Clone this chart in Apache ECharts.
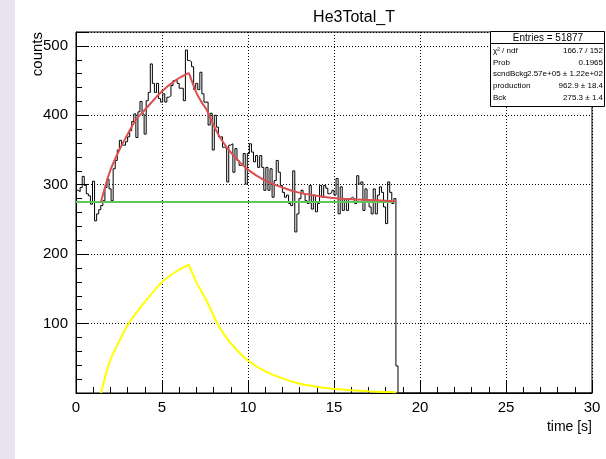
<!DOCTYPE html>
<html>
<head>
<meta charset="utf-8">
<script src="https://cdn.jsdelivr.net/npm/echarts@6/dist/echarts.min.js"></script>
<style>
html, body { margin: 0; padding: 0; background: #fff; }
#chart { width: 606px; height: 459px; }
</style>
</head>
<body>
<div id="chart"></div>
<script>
// histogram He3Total_T: 250 bins of 0.12 s over 0..30 s
const binWidth = 0.12
const nBins = 250
const counts = [
  292, 290, 296, 312, 299, 287, 284, 272, 305, 248,
  258, 264, 270, 277, 296, 308, 294, 277, 323, 335,
  350, 364, 357, 357, 362, 369, 378, 391, 402, 368,
  405, 420, 402, 373, 421, 433, 474, 446, 433, 446,
  424, 419, 431, 419, 426, 428, 443, 450, 452, 446,
  439, 439, 421, 494, 479, 477, 470, 437, 446, 437,
  462,
  431, 419, 419, 386, 403, 350, 400, 383, 369, 369,
  354, 352, 304, 357, 359, 318, 352, 335, 328, 328,
  345, 301, 345, 359, 347, 333, 342, 325, 342, 325,
  292,
  325, 292, 323, 282, 306, 335, 318, 299, 289, 282,
  285, 273, 270, 320, 232, 258, 280, 292, 287, 277,
  273, 299, 265, 285, 261, 273, 299, 282, 299, 295,
  287, 289, 292,
  285, 309, 258, 297, 263, 280, 263, 280, 282, 280,
  273, 313, 301, 304, 263, 294, 275, 268, 258, 294,
  258, 285, 297, 289, 268, 244, 304, 289, 273, 280,
  39
]

// fit components: [time, counts]
const fitRise = [[1.45, 275], [1.97, 319], [2.5, 349], [3.03, 374], [3.52, 395], [3.9, 405], [4.97, 434], [5.83, 451], [6.56, 461]]
const fitDecay = [[6.56, 461], [6.99, 433], [7.3, 419], [7.57, 409], [8.24, 374], [8.73, 355], [9.31, 338], [10.03, 321], [11, 306], [12, 296], [12.9, 289], [14, 284], [14.9, 281], [16, 279], [17, 278], [18, 277], [18.6, 276]]
const bckLine = [[0, 275.3], [18.6, 275.3]]
const prodRise = [[1.45, 0], [1.97, 46], [2.5, 74], [3.03, 99], [3.9, 128], [4.97, 159], [5.83, 175], [6.56, 185]]
const prodDecay = [[6.56, 185], [6.99, 160], [7.57, 134], [8.24, 99], [8.73, 80], [9.31, 63], [10.03, 46], [11, 31], [12, 21], [12.9, 14], [14, 9], [14.9, 6], [16, 4], [17, 2.5], [18, 1.5], [18.6, 1]]

const statNames = ['χ² / ndf', 'Prob', 'scndBckg', 'production', 'Bck']
const statValues = ['166.7 / 152', '0.1965', '2.57e+05 ± 1.22e+02', '962.9 ± 18.4', '275.3 ± 1.4']
const entries = 51877

const font = 'Liberation Sans, Arial, Helvetica, sans-serif'

const histData = []
for (let i = 0; i < nBins; i++) {
  histData.push([i * binWidth, counts[i] || 0])
}
histData.push([nBins * binWidth, 0])

function curve(data, color, width) {
  return {
    type: 'line', data, smooth: 0.3, showSymbol: false,
    lineStyle: {color, width}, silent: true
  }
}

// stats box sits above the grid lines
const statTexts = []
statNames.forEach((name, i) => {
  const y = 50.5 + i * 11.8
  statTexts.push({type: 'text', x: 493, y, z: 101,
    style: {text: name, font: '8px ' + font, fill: '#000', verticalAlign: 'middle'}})
  statTexts.push({type: 'text', x: 603, y, z: 101,
    style: {text: statValues[i], font: '8px ' + font, fill: '#000', align: 'right', verticalAlign: 'middle'}})
})

const chart = echarts.init(document.getElementById('chart'), null, {renderer: 'canvas'})
chart.setOption({
  animation: false,
  backgroundColor: '#fff',
  grid: {left: 76, right: 14, top: 32, bottom: 66, show: true, borderColor: '#000', borderWidth: 1},
  xAxis: {
    type: 'value', min: 0, max: 30, interval: 5,
    axisLine: {show: true, lineStyle: {color: '#000'}},
    axisTick: {show: true, inside: true, length: 12, lineStyle: {color: '#000'}},
    minorTick: {show: true, splitNumber: 5, length: 6, lineStyle: {color: '#000'}},
    axisLabel: {color: '#000', fontSize: 15, fontFamily: font, margin: 7},
    splitLine: {show: true, lineStyle: {color: '#000', type: [1, 2], width: 1}}
  },
  yAxis: {
    type: 'value', min: 0, max: 520, interval: 100,
    axisLine: {show: true, lineStyle: {color: '#000'}},
    axisTick: {show: true, inside: true, length: 13, lineStyle: {color: '#000'}},
    minorTick: {show: true, splitNumber: 5, length: 6, lineStyle: {color: '#000'}},
    axisLabel: {color: '#000', fontSize: 15, fontFamily: font, margin: 8,
      formatter: v => (v === 0 || v % 100 !== 0) ? '' : String(v)},
    splitLine: {show: true, lineStyle: {color: '#000', type: [1, 2], width: 1}}
  },
  series: [
    {type: 'line', data: histData, step: 'end', showSymbol: false, silent: true,
      lineStyle: {color: '#000', width: 1}},
    curve(bckLine, '#5cc85c', 2),
    curve(fitRise, '#dc4f4f', 2),
    curve(fitDecay, '#dc4f4f', 2),
    curve(prodRise, '#ffff00', 2),
    curve(prodDecay, '#ffff00', 2)
  ],
  graphic: [
    {type: 'rect', shape: {x: 0, y: 0, width: 15, height: 459}, style: {fill: '#e8e4f0'}, silent: true},
    {type: 'text', x: 354, y: 18,
      style: {text: 'He3Total_T', font: '16px ' + font, fill: '#000', align: 'center', verticalAlign: 'middle'}},
    {type: 'text', x: 592, y: 427,
      style: {text: 'time [s]', font: '14px ' + font, fill: '#000', align: 'right', verticalAlign: 'middle'}},
    {type: 'text', x: 38, y: 32, rotation: Math.PI / 2,
      style: {text: 'counts', font: '15px ' + font, fill: '#000', align: 'right', verticalAlign: 'middle'}},
    {type: 'rect', z: 100, shape: {x: 490.5, y: 31.5, width: 114, height: 75},
      style: {fill: '#fff', stroke: '#000', lineWidth: 1}},
    {type: 'line', z: 101, shape: {x1: 490.5, y1: 43.5, x2: 604.5, y2: 43.5}, style: {stroke: '#000', lineWidth: 1}},
    {type: 'text', x: 548, y: 38, z: 101,
      style: {text: 'Entries = ' + entries, font: '10px ' + font, fill: '#000', align: 'center', verticalAlign: 'middle'}},
    ...statTexts
  ]
})
</script>
</body>
</html>
